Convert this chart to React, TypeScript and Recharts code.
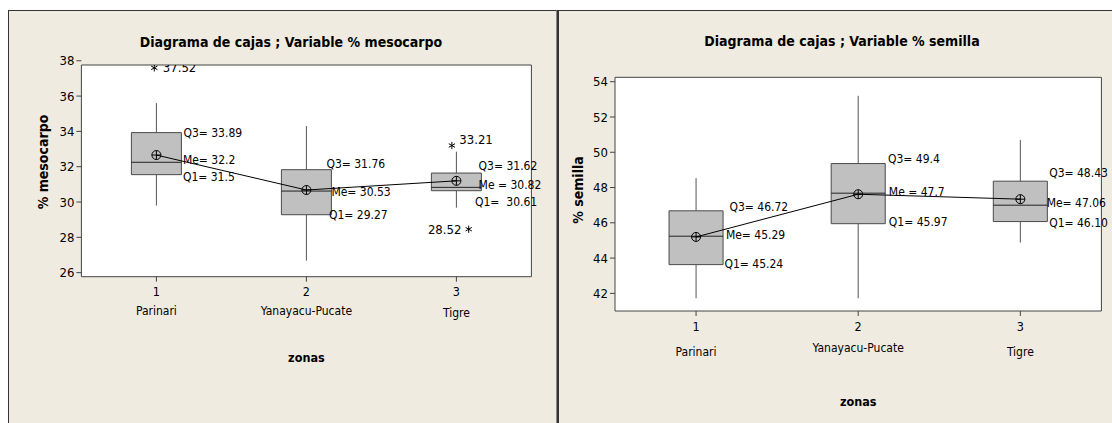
import React from "react";
import {
  ComposedChart, XAxis, YAxis, CartesianGrid, ReferenceArea, ReferenceLine,
  ReferenceDot, Scatter, Line, Label,
} from "recharts";

const FONT = '"DejaVu Sans Condensed", "DejaVu Sans", sans-serif';

// zonas
const zonaIds = [1, 2, 3];
const zonaNames = ["Parinari", "Yanayacu-Pucate", "Tigre"];

// % mesocarpo
const mesoMin = [29.8, 26.68, 29.68];
const mesoQ1 = [31.55, 29.28, 30.64];
const mesoMed = [32.25, 30.62, 30.83];
const mesoQ3 = [33.93, 31.83, 31.64];
const mesoMax = [35.6, 34.3, 32.85];
const mesoMean = [32.66, 30.68, 31.2];
const mesoOutX = [0.986, 2.97, 3.082];
const mesoOutY = [37.6, 33.2, 28.46];
const mesoOutText = ["37.52", "33.21", "28.52"];
const mesoQ3Text = ["Q3= 33.89", "Q3= 31.76", "Q3= 31.62"];
const mesoMeText = ["Me= 32.2", "Me= 30.53", "Me = 30.82"];
const mesoQ1Text = ["Q1= 31.5", "Q1= 29.27", "Q1=  30.61"];
const mesoTicks = [26, 28, 30, 32, 34, 36, 38];

// % semilla
const semMin = [41.72, 41.72, 44.88];
const semQ1 = [43.63, 45.95, 46.07];
const semMed = [45.24, 47.68, 47.0];
const semQ3 = [46.68, 49.36, 48.36];
const semMax = [48.53, 53.2, 50.7];
const semMean = [45.2, 47.62, 47.34];
const semQ3Text = ["Q3= 46.72", "Q3= 49.4", "Q3= 48.43"];
const semMeText = ["Me= 45.29", "Me = 47.7", "Me= 47.06"];
const semQ1Text = ["Q1= 45.24", "Q1= 45.97", "Q1= 46.10"];
const semTicks = [42, 44, 46, 48, 50, 52, 54];

const BOX_HALF = 1 / 6;

type Nudge = [number, number];

interface PanelProps {
  left: number;
  width: number;
  margin: { top: number; right: number; bottom: number; left: number };
  domain: [number, number];
  ticks: number[];
  min: number[]; q1: number[]; med: number[]; q3: number[]; max: number[]; mean: number[];
  q3Text: string[]; meText: string[]; q1Text: string[];
  q3Nudge: Nudge[]; meNudge: Nudge[]; q1Nudge: Nudge[];
  outX?: number[]; outY?: number[]; outText?: string[];
  outNudge?: [number, number, "start" | "end"][];
  nameDy: number[];
  zonasDy: number;
  yLabel: string;
  yLabelPos: [number, number];
}

function StatText({ cx, cy, nudge, text }: { cx: number; cy: number; nudge: Nudge; text: string }) {
  return (
    <text x={cx + nudge[0]} y={cy + nudge[1]} dominantBaseline="central" fontSize={12}
      fontFamily={FONT} fill="#000" style={{ whiteSpace: "pre" }}>
      {text}
    </text>
  );
}

function MeanMark({ cx, cy }: { cx: number; cy: number }) {
  const r = 4.5;
  return (
    <g stroke="#000" strokeWidth={1} fill="none">
      <circle cx={cx} cy={cy} r={r} />
      <line x1={cx - r} y1={cy} x2={cx + r} y2={cy} />
      <line x1={cx} y1={cy - r} x2={cx} y2={cy + r} />
    </g>
  );
}

function Star({ cx, cy }: { cx: number; cy: number }) {
  const r = 3.6;
  const a = [90, 30, 150].map((d) => (d * Math.PI) / 180);
  return (
    <g stroke="#000" strokeWidth={1}>
      {a.map((t, k) => (
        <line key={k} x1={cx - r * Math.cos(t)} y1={cy - r * Math.sin(t)}
          x2={cx + r * Math.cos(t)} y2={cy + r * Math.sin(t)} />
      ))}
    </g>
  );
}

function BoxPanel(p: PanelProps) {
  const rows = zonaIds.map((x, i) => ({ x, mean: p.mean[i] }));
  const outliers = (p.outX || []).map((x, i) => ({ x, y: p.outY![i], i }));

  const renderTick = (t: any) => {
    const i = zonaIds.indexOf(t.payload.value);
    return (
      <g key={t.index}>
        <text x={t.x} y={t.y + 10} textAnchor="middle" dominantBaseline="central"
          fontSize={12.5} fontFamily={FONT} fill="#000">{t.payload.value}</text>
        <text x={t.x} y={t.y + p.nameDy[i]} textAnchor="middle" dominantBaseline="central"
          fontSize={12} fontFamily={FONT} fill="#000">{zonaNames[i]}</text>
      </g>
    );
  };

  return (
    <div style={{ position: "absolute", left: p.left, top: 0 }}>
      <ComposedChart width={p.width} height={423} data={rows} margin={p.margin}>
        <CartesianGrid fill="#fff" horizontal={false} vertical={false} />
        <XAxis dataKey="x" type="number" domain={[0.5, 3.5]} ticks={zonaIds} interval={0}
          allowDataOverflow axisLine={false} tickSize={5} tickMargin={0} height={30}
          tickLine={{ stroke: "#444" }} tick={renderTick}>
          <Label content={(l: any) => (
            <text x={l.viewBox.x + l.viewBox.width / 2} y={l.viewBox.y + p.zonasDy}
              textAnchor="middle" dominantBaseline="central" fontSize={12.5}
              fontWeight="bold" fontFamily={FONT} fill="#000">zonas</text>
          )} />
        </XAxis>
        <YAxis type="number" domain={p.domain} ticks={p.ticks} interval={0} allowDataOverflow
          axisLine={false} tickSize={5} tickMargin={2} width={40}
          tickLine={{ stroke: "#444" }}
          tick={{ fontSize: 13, fontFamily: FONT, fill: "#000" }}>
          <Label content={() => (
            <text transform={`translate(${p.yLabelPos[0]},${p.yLabelPos[1]}) rotate(-90)`}
              textAnchor="middle" dominantBaseline="central" fontSize={14}
              fontWeight="bold" fontFamily={FONT} fill="#000">{p.yLabel}</text>
          )} />
        </YAxis>

        {zonaIds.map((id, i) => (
          <ReferenceLine key={`wu${i}`} segment={[{ x: id, y: p.q3[i] }, { x: id, y: p.max[i] }]}
            stroke="#555" strokeWidth={1} />
        ))}
        {zonaIds.map((id, i) => (
          <ReferenceLine key={`wl${i}`} segment={[{ x: id, y: p.min[i] }, { x: id, y: p.q1[i] }]}
            stroke="#555" strokeWidth={1} />
        ))}
        {zonaIds.map((id, i) => (
          <ReferenceArea key={`b${i}`} x1={id - BOX_HALF} x2={id + BOX_HALF} y1={p.q1[i]} y2={p.q3[i]}
            fill="#c0c0c0" fillOpacity={1} stroke="#4a4a4a" strokeWidth={1} />
        ))}
        {zonaIds.map((id, i) => (
          <ReferenceLine key={`m${i}`}
            segment={[{ x: id - BOX_HALF, y: p.med[i] }, { x: id + BOX_HALF, y: p.med[i] }]}
            stroke="#222" strokeWidth={1} />
        ))}

        {/* plot frame */}
        <ReferenceArea x1={0.5} x2={3.5} y1={p.domain[0]} y2={p.domain[1]}
          fill="none" stroke="#444" strokeWidth={1} />

        <Line dataKey="mean" stroke="#000" strokeWidth={1} isAnimationActive={false}
          dot={(d: any) => <MeanMark key={d.index} cx={d.cx} cy={d.cy} />} activeDot={false} />

        {outliers.length > 0 && (
          <Scatter data={outliers} dataKey="y" isAnimationActive={false}
            shape={(s: any) => {
              const n = p.outNudge![s.payload.i];
              return (
                <g>
                  <Star cx={s.cx} cy={s.cy} />
                  <text x={s.cx + n[0]} y={s.cy + n[1]} textAnchor={n[2]} dominantBaseline="central"
                    fontSize={13} fontFamily={FONT} fill="#000">{p.outText![s.payload.i]}</text>
                </g>
              );
            }} />
        )}

        {zonaIds.map((id, i) => (
          <ReferenceDot key={`tq3${i}`} x={id + BOX_HALF} y={p.q3[i]} r={1}
            shape={(s: any) => <StatText cx={s.cx} cy={s.cy} nudge={p.q3Nudge[i]} text={p.q3Text[i]} />} />
        ))}
        {zonaIds.map((id, i) => (
          <ReferenceDot key={`tme${i}`} x={id + BOX_HALF} y={p.med[i]} r={1}
            shape={(s: any) => <StatText cx={s.cx} cy={s.cy} nudge={p.meNudge[i]} text={p.meText[i]} />} />
        ))}
        {zonaIds.map((id, i) => (
          <ReferenceDot key={`tq1${i}`} x={id + BOX_HALF} y={p.q1[i]} r={1}
            shape={(s: any) => <StatText cx={s.cx} cy={s.cy} nudge={p.q1Nudge[i]} text={p.q1Text[i]} />} />
        ))}
      </ComposedChart>
    </div>
  );
}

const titleStyle: React.CSSProperties = {
  position: "absolute",
  width: 440,
  textAlign: "center",
  fontFamily: FONT,
  fontSize: 14,
  fontWeight: "bold",
  lineHeight: "16px",
  color: "#000",
  whiteSpace: "nowrap",
};

export default function App() {
  return (
    <div style={{ position: "absolute", left: 0, top: 0, width: 1112, height: 423, overflow: "hidden", background: "#fff" }}>
      {/* panel frames */}
      <div style={{
        position: "absolute", left: 8, top: 10, width: 547, height: 430, background: "#efebe1",
        borderLeft: "1px solid #333", borderTop: "1px solid #333", borderRight: "1px solid #888",
      }} />
      <div style={{
        position: "absolute", left: 557, top: 10, width: 560, height: 430, background: "#efebe1",
        borderLeft: "2px solid #333", borderTop: "1px solid #333",
      }} />

      <div style={{ ...titleStyle, left: 291 - 220, top: 42 - 8 }}>
        Diagrama de cajas ; Variable % mesocarpo
      </div>
      <div style={{ ...titleStyle, left: 842 - 220, top: 41 - 8 }}>
        Diagrama de cajas ; Variable % semilla
      </div>

      <BoxPanel
        left={0} width={556}
        margin={{ top: 65, right: 24.6, bottom: 116.3, left: 41.4 }}
        domain={[25.77, 37.76]} ticks={mesoTicks}
        min={mesoMin} q1={mesoQ1} med={mesoMed} q3={mesoQ3} max={mesoMax} mean={mesoMean}
        q3Text={mesoQ3Text} meText={mesoMeText} q1Text={mesoQ1Text}
        q3Nudge={[[2, 0], [-5, -5.7], [-2.8, -7.3]]}
        meNudge={[[1.5, -2], [0, 1.3], [-2.8, -2.6]]}
        q1Nudge={[[1.5, 2.6], [-2.4, 0.3], [-6.4, 11]]}
        outX={mesoOutX} outY={mesoOutY} outText={mesoOutText}
        outNudge={[[8.5, 0, "start"], [7.4, -5.7, "start"], [-7.3, 0, "end"]]}
        nameDy={[29, 29, 31]} zonasDy={81}
        yLabel="% mesocarpo" yLabelPos={[43.3, 162]}
      />
      <BoxPanel
        left={557} width={555}
        margin={{ top: 77.3, right: 10.6, bottom: 82, left: 18 }}
        domain={[41.0, 54.25]} ticks={semTicks}
        min={semMin} q1={semQ1} med={semMed} q3={semQ3} max={semMax} mean={semMean}
        q3Text={semQ3Text} meText={semMeText} q1Text={semQ1Text}
        q3Nudge={[[6.4, -4], [2.7, -4.4], [1.8, -8.6]]}
        meNudge={[[2.8, -1], [3.6, -1.6], [-0.7, -2.6]]}
        q1Nudge={[[1.4, -0.4], [3.6, -2], [1.8, 1]]}
        nameDy={[35.7, 32.3, 35.7]} zonasDy={90.7}
        yLabel="% semilla" yLabelPos={[21.2, 190]}
      />
    </div>
  );
}
